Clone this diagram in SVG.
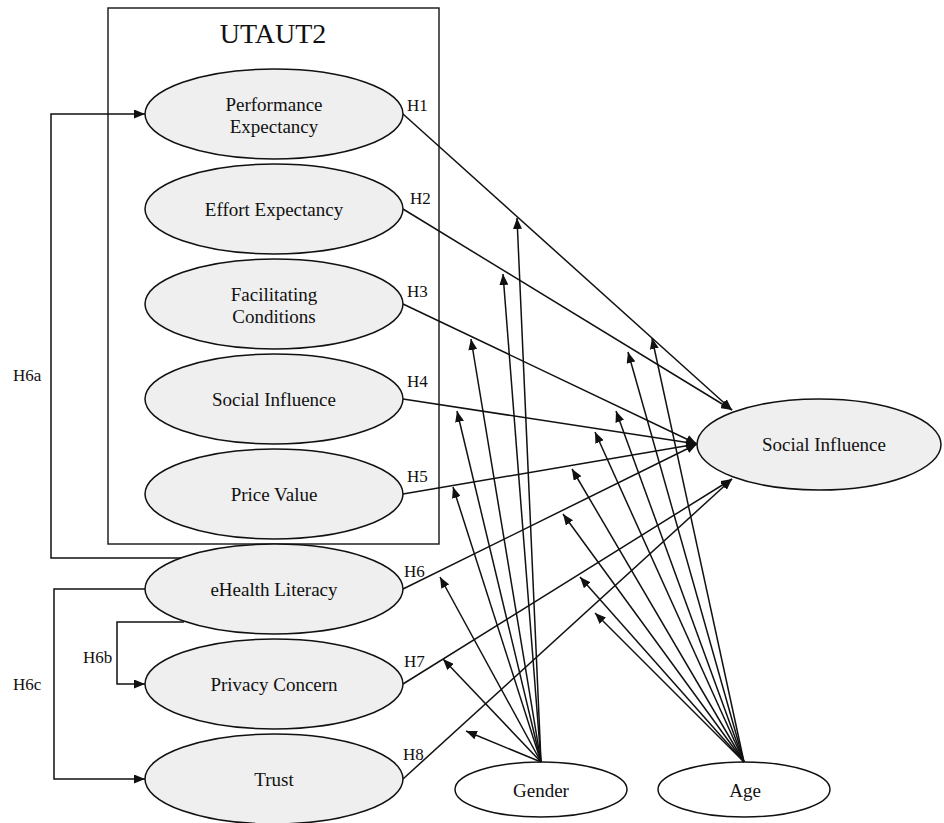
<svg xmlns="http://www.w3.org/2000/svg" width="944" height="823" viewBox="0 0 944 823">
<style>
.lbl{font-family:"Liberation Serif","Times New Roman",serif;font-size:19px;fill:#111;text-anchor:middle}
.h{font-family:"Liberation Serif","Times New Roman",serif;font-size:17px;fill:#111}
.title{font-family:"Liberation Serif","Times New Roman",serif;font-size:28px;fill:#111;text-anchor:middle}
.gray{fill:#efefef;stroke:#111;stroke-width:1.5}
.white{fill:#fff;stroke:#111;stroke-width:1.5}
.c line,.c path{stroke:#111;stroke-width:1.5;fill:none;marker-end:url(#ah)}
</style>
<defs>
<marker id="ah" markerUnits="userSpaceOnUse" markerWidth="11" markerHeight="9" refX="11" refY="4.5" orient="auto">
<path d="M0,0 L11,4.5 L0,9 z" fill="#111"/>
</marker>
</defs>
<rect x="0" y="0" width="944" height="823" fill="#fff"/>
<g id="utaut2-box">
<rect x="108" y="8" width="331" height="536" fill="none" stroke="#222" stroke-width="1.5"/>
<text class="title" x="273" y="43">UTAUT2</text>
</g>
<g id="pe"><ellipse class="gray" cx="274" cy="114" rx="129" ry="45"/><text class="lbl" x="274" y="110.5">Performance</text><text class="lbl" x="274" y="133">Expectancy</text></g>
<g id="ee"><ellipse class="gray" cx="274" cy="209" rx="129" ry="45"/><text class="lbl" x="274" y="216">Effort Expectancy</text></g>
<g id="fc"><ellipse class="gray" cx="274" cy="304" rx="129" ry="45"/><text class="lbl" x="274" y="301">Facilitating</text><text class="lbl" x="274" y="323">Conditions</text></g>
<g id="si"><ellipse class="gray" cx="274" cy="399" rx="129" ry="45"/><text class="lbl" x="274" y="406">Social Influence</text></g>
<g id="pv"><ellipse class="gray" cx="274" cy="494" rx="129" ry="45"/><text class="lbl" x="274" y="501">Price Value</text></g>
<g id="ehl"><ellipse class="gray" cx="274" cy="589" rx="129" ry="45"/><text class="lbl" x="274" y="596">eHealth Literacy</text></g>
<g id="pc"><ellipse class="gray" cx="274" cy="684" rx="129" ry="45"/><text class="lbl" x="274" y="691">Privacy Concern</text></g>
<g id="trust"><ellipse class="gray" cx="274" cy="779" rx="129" ry="45"/><text class="lbl" x="274" y="786">Trust</text></g>
<g id="outcome"><ellipse class="gray" cx="819" cy="444.5" rx="122" ry="45.5"/><text class="lbl" x="824" y="451">Social Influence</text></g>
<g id="gender"><ellipse class="white" cx="541" cy="789.5" rx="86" ry="27.5"/><text class="lbl" x="541" y="797">Gender</text></g>
<g id="age"><ellipse class="white" cx="744" cy="789.5" rx="86" ry="27.5"/><text class="lbl" x="745" y="797">Age</text></g>
<g id="connectors" class="c">
<path d="M181,558 H51 V114 H145"/>
<path d="M184,622 H117 V684 H145"/>
<path d="M145,589 H54 V779 H145"/>
<line x1="403" y1="114" x2="732" y2="410"/>
<line x1="403" y1="209" x2="732" y2="410"/>
<line x1="403" y1="304" x2="697" y2="444"/>
<line x1="403" y1="399" x2="697" y2="444"/>
<line x1="403" y1="494" x2="697" y2="444"/>
<line x1="403" y1="589" x2="697" y2="444"/>
<line x1="403" y1="684" x2="732" y2="479"/>
<line x1="403" y1="779" x2="732" y2="479"/>
<line x1="541" y1="762" x2="517" y2="218"/>
<line x1="541" y1="762" x2="503" y2="274"/>
<line x1="541" y1="762" x2="471" y2="339"/>
<line x1="541" y1="762" x2="457" y2="411"/>
<line x1="541" y1="762" x2="453" y2="487"/>
<line x1="541" y1="762" x2="440" y2="577"/>
<line x1="541" y1="762" x2="443" y2="659"/>
<line x1="541" y1="762" x2="466" y2="731"/>
<line x1="744" y1="762" x2="652" y2="338"/>
<line x1="744" y1="762" x2="628" y2="352"/>
<line x1="744" y1="762" x2="616" y2="411"/>
<line x1="744" y1="762" x2="595" y2="432"/>
<line x1="744" y1="762" x2="572" y2="469"/>
<line x1="744" y1="762" x2="563" y2="514"/>
<line x1="744" y1="762" x2="580" y2="577"/>
<line x1="744" y1="762" x2="595" y2="613"/>
</g>
<g id="labels">
<text class="h" x="407" y="111">H1</text>
<text class="h" x="410" y="204">H2</text>
<text class="h" x="407" y="297">H3</text>
<text class="h" x="407" y="387">H4</text>
<text class="h" x="407" y="482">H5</text>
<text class="h" x="404" y="577">H6</text>
<text class="h" x="404" y="667">H7</text>
<text class="h" x="403" y="760">H8</text>
<text class="h" x="13" y="381">H6a</text>
<text class="h" x="83" y="663">H6b</text>
<text class="h" x="13" y="690">H6c</text>
</g>
</svg>
